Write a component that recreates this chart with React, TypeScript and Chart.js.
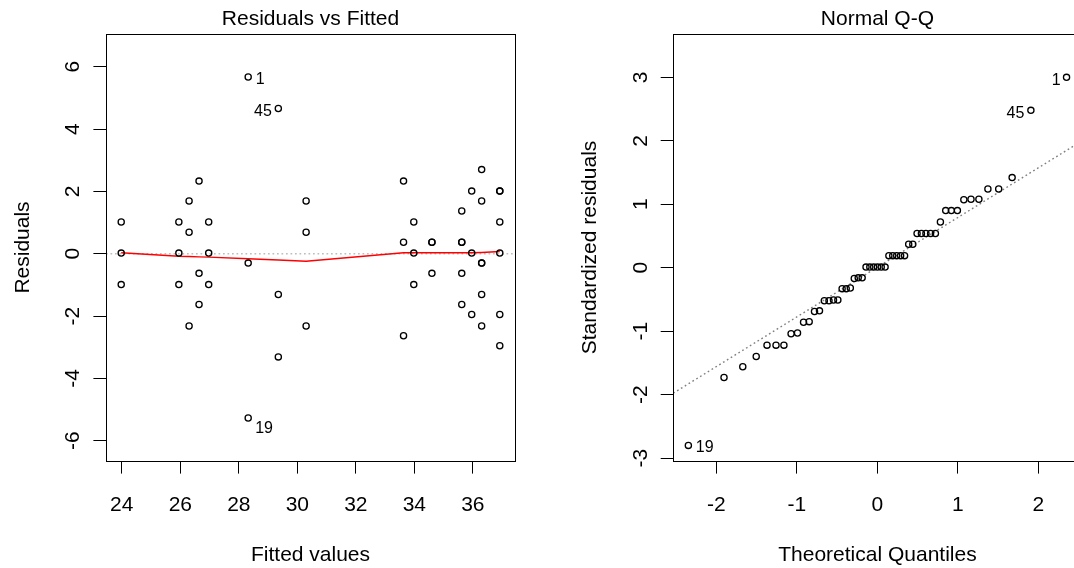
import React, { useEffect, useRef } from 'react';
import { Chart, registerables } from 'chart.js';

Chart.register(...registerables);

// ---------- Residuals vs Fitted ----------
const fittedValues = [
  23.98, 23.98, 23.98, 25.95, 25.95, 25.95, 26.3, 26.3, 26.3, 26.64, 26.64, 26.64,
  26.97, 26.97, 26.97, 28.32, 28.32, 28.32, 29.35, 29.35, 29.35, 30.3, 30.3, 30.3,
  33.63, 33.63, 33.63, 33.98, 33.98, 33.98, 34.6, 34.6, 34.6,
  35.62, 35.62, 35.62, 35.62, 35.62, 35.96, 35.96, 35.96,
  36.3, 36.3, 36.3, 36.3, 36.3, 36.3, 36.92, 36.92, 36.92, 36.92, 36.92, 36.92,
];
const residualValues = [
  1.02, 0.02, -0.99, 1.02, 0.02, -0.99, 1.69, 0.69, -2.32, 2.33, -0.63, -1.63,
  1.02, 0.02, -0.99, 5.67, -0.3, -5.27, 4.66, -1.31, -3.31, 1.69, 0.69, -2.32,
  2.33, 0.37, -2.63, 1.02, 0.02, -0.99, 0.37, 0.37, -0.63,
  1.37, 0.37, 0.37, -0.63, -1.63, 2.01, 0.02, -1.95,
  2.7, 1.69, -0.3, -0.3, -1.31, -2.32, 2.01, 2.01, 1.02, 0.02, -1.95, -2.95,
];
const lowessFitted = [23.98, 25.95, 26.3, 26.64, 26.97, 28.32, 29.35, 30.3, 33.63, 33.98, 34.6, 35.62, 35.96, 36.3, 36.92];
const lowessResid = [0.03, -0.08, -0.09, -0.1, -0.11, -0.16, -0.2, -0.24, 0.03, 0.03, 0.03, 0.03, 0.03, 0.04, 0.07];
const fittedRange = [23.46, 37.44];
const residRange = [-6.65, 7.05];
const fittedTicks = [24, 26, 28, 30, 32, 34, 36];
const residTicks = [-6, -4, -2, 0, 2, 4, 6];
const zeroLine = [0, 0];

// ---------- Normal Q-Q ----------
const theoQuantiles = [
  -2.349, -1.906, -1.673, -1.506, -1.372, -1.26, -1.162, -1.073, -0.993, -0.918, -0.848, -0.782, -0.72,
  -0.66, -0.602, -0.546, -0.492, -0.439, -0.388, -0.337, -0.288, -0.239, -0.19, -0.142, -0.095, -0.047,
  0,
  0.047, 0.095, 0.142, 0.19, 0.239, 0.288, 0.337, 0.388, 0.439, 0.492, 0.546, 0.602, 0.66,
  0.72, 0.782, 0.848, 0.918, 0.993, 1.073, 1.162, 1.26, 1.372, 1.506, 1.673, 1.906, 2.349,
];
const stdResiduals = [
  -2.8, -1.73, -1.56, -1.4, -1.22, -1.22, -1.22, -1.04, -1.03, -0.86, -0.85, -0.69, -0.68,
  -0.52, -0.52, -0.51, -0.51, -0.33, -0.33, -0.32, -0.17, -0.16, -0.16,
  0.01, 0.01, 0.01, 0.01, 0.01, 0.01, 0.19, 0.19, 0.19, 0.19, 0.19, 0.37, 0.37,
  0.54, 0.54, 0.54, 0.54, 0.54, 0.72, 0.9, 0.9, 0.9, 1.07, 1.08, 1.08, 1.24, 1.24, 1.42, 2.48, 3.0,
];
const qqLineX = [-2.536, 2.536];
const qqLineY = [-1.977, 1.995];
const quantRange = [-2.536, 2.536];
const stdRange = [-3.046, 3.683];
const quantTicks = [-2, -1, 0, 1, 2];
const stdTicks = [-3, -2, -1, 0, 1, 2, 3];

// ---------- identified observations ----------
const idLabels = ['1', '45', '19'];
const idIndexFitted = [15, 18, 17];
const idIndexQQ = [52, 51, 0];

const FONT = "'Liberation Sans', Arial, Helvetica, sans-serif";
const BIG = { family: FONT, size: 21, lineHeight: 1.2, weight: 'normal' as const };

const alignPx = (p: number) => Math.round(p - 0.5) + 0.5;

const boxPlugin = {
  id: 'plotBox',
  afterDraw(chart: any) {
    const { ctx, chartArea: a } = chart;
    ctx.save();
    ctx.strokeStyle = '#000';
    ctx.lineWidth = 1;
    const l = alignPx(a.left), r = alignPx(a.right), t = alignPx(a.top), b = alignPx(a.bottom);
    ctx.strokeRect(l, t, r - l, b - t);
    ctx.restore();
  },
};

function makeIdPlugin(indices: number[], offsets: { dx: number; dy: number }[]) {
  return {
    id: 'idLabels',
    afterDatasetsDraw(chart: any) {
      const { ctx } = chart;
      const meta = chart.getDatasetMeta(0);
      ctx.save();
      ctx.font = `16px ${FONT}`;
      ctx.fillStyle = '#000';
      ctx.textBaseline = 'middle';
      indices.forEach((idx, k) => {
        const pt = meta.data[idx];
        if (!pt) return;
        const o = offsets[k];
        ctx.textAlign = o.dx >= 0 ? 'left' : 'right';
        ctx.fillText(idLabels[k], pt.x + o.dx, pt.y + o.dy);
      });
      ctx.restore();
    },
  };
}

function makeScales(
  xr: number[], yr: number[], xTicks: number[], yTicks: number[],
  xTitle: string, yTitle: string, yAxisWidth: number, yTitlePad: number,
) {
  const grid = { display: true, drawOnChartArea: false, drawTicks: true, tickLength: 12.6, color: '#000', lineWidth: 1 };
  return {
    x: {
      type: 'linear' as const,
      position: 'bottom' as const,
      min: xr[0],
      max: xr[1],
      afterBuildTicks: (axis: any) => { axis.ticks = xTicks.map((v) => ({ value: v })); },
      afterFit: (axis: any) => { axis.height = 107; },
      grid,
      border: { display: false },
      ticks: {
        color: '#000', font: BIG, padding: 19.5, autoSkip: false, minRotation: 0, maxRotation: 0,
        callback: (v: any) => String(v),
      },
      title: { display: true, text: xTitle, color: '#000', font: BIG, padding: { top: 0, bottom: 0 } },
    },
    y: {
      type: 'linear' as const,
      position: 'left' as const,
      min: yr[0],
      max: yr[1],
      afterBuildTicks: (axis: any) => { axis.ticks = yTicks.map((v) => ({ value: v })); },
      afterFit: (axis: any) => { axis.width = yAxisWidth; },
      grid,
      border: { display: false },
      ticks: {
        color: '#000', font: BIG, padding: 10.4, autoSkip: false, minRotation: 90, maxRotation: 90,
        crossAlign: 'center' as const,
        callback: (v: any) => String(v),
      },
      title: { display: true, text: yTitle, color: '#000', font: BIG, padding: { top: yTitlePad, bottom: 0 } },
    },
  };
}

const pointStyle = {
  pointRadius: 3.1,
  pointBorderWidth: 1.3,
  pointBorderColor: '#000',
  pointBackgroundColor: 'rgba(0,0,0,0)',
  showLine: false,
};

export default function App() {
  const leftRef = useRef<HTMLCanvasElement>(null);
  const rightRef = useRef<HTMLCanvasElement>(null);

  useEffect(() => {
    const left = new Chart(leftRef.current as HTMLCanvasElement, {
      type: 'scatter',
      data: {
        datasets: [
          {
            label: 'Residuals',
            data: fittedValues.map((x, i) => ({ x, y: residualValues[i] })),
            ...pointStyle,
            order: 0,
          },
          {
            label: 'lowess',
            data: lowessFitted.map((x, i) => ({ x, y: lowessResid[i] })),
            showLine: true,
            borderColor: '#ff0000',
            borderWidth: 1.4,
            pointRadius: 0,
            tension: 0,
            order: 1,
          },
          {
            label: 'zero',
            data: fittedRange.map((x, i) => ({ x, y: zeroLine[i] })),
            showLine: true,
            borderColor: '#bebebe',
            borderWidth: 1.4,
            borderDash: [1.7, 2.8],
            pointRadius: 0,
            order: 2,
          },
        ],
      } as any,
      options: {
        responsive: false,
        animation: false,
        events: [],
        layout: { padding: { left: 0, right: 25, top: 0, bottom: 0 } },
        plugins: {
          legend: { display: false },
          tooltip: { enabled: false },
          title: {
            display: true, text: 'Residuals vs Fitted', fullSize: false, color: '#000', font: BIG,
            padding: { top: 7.1, bottom: 1.7 },
          },
        },
        scales: makeScales(fittedRange, residRange, fittedTicks, residTicks, 'Fitted values', 'Residuals', 106, 10.5) as any,
      },
      plugins: [boxPlugin, makeIdPlugin(idIndexFitted, [{ dx: 7.5, dy: 3 }, { dx: -6.5, dy: 3 }, { dx: 7, dy: 10.5 }])],
    });

    const right = new Chart(rightRef.current as HTMLCanvasElement, {
      type: 'scatter',
      data: {
        datasets: [
          {
            label: 'Standardized residuals',
            data: theoQuantiles.map((x, i) => ({ x, y: stdResiduals[i] })),
            ...pointStyle,
            order: 0,
          },
          {
            label: 'qqline',
            data: qqLineX.map((x, i) => ({ x, y: qqLineY[i] })),
            showLine: true,
            borderColor: '#7f7f7f',
            borderWidth: 1.4,
            borderDash: [1.7, 2.8],
            pointRadius: 0,
            order: 1,
          },
        ],
      } as any,
      options: {
        responsive: false,
        animation: false,
        events: [],
        layout: { padding: { left: 0, right: 18.4, top: 0, bottom: 0 } },
        plugins: {
          legend: { display: false },
          tooltip: { enabled: false },
          title: {
            display: true, text: 'Normal Q-Q', fullSize: false, color: '#000', font: BIG,
            padding: { top: 7.1, bottom: 1.7 },
          },
        },
        scales: makeScales(quantRange, stdRange, quantTicks, stdTicks, 'Theoretical Quantiles', 'Standardized residuals', 133.3, 37.8) as any,
      },
      plugins: [boxPlugin, makeIdPlugin(idIndexQQ, [{ dx: -6, dy: 3.5 }, { dx: -6.5, dy: 3.5 }, { dx: 7.5, dy: 2.5 }])],
    });

    return () => {
      left.destroy();
      right.destroy();
    };
  }, []);

  return (
    <div
      style={{
        position: 'fixed', left: 0, top: 0, width: 1074, height: 568,
        overflow: 'hidden', background: '#fff',
      }}
    >
      <canvas ref={leftRef} width={540} height={568} style={{ position: 'absolute', left: 0, top: 0 }} />
      <canvas ref={rightRef} width={560} height={568} style={{ position: 'absolute', left: 540, top: 0 }} />
    </div>
  );
}
